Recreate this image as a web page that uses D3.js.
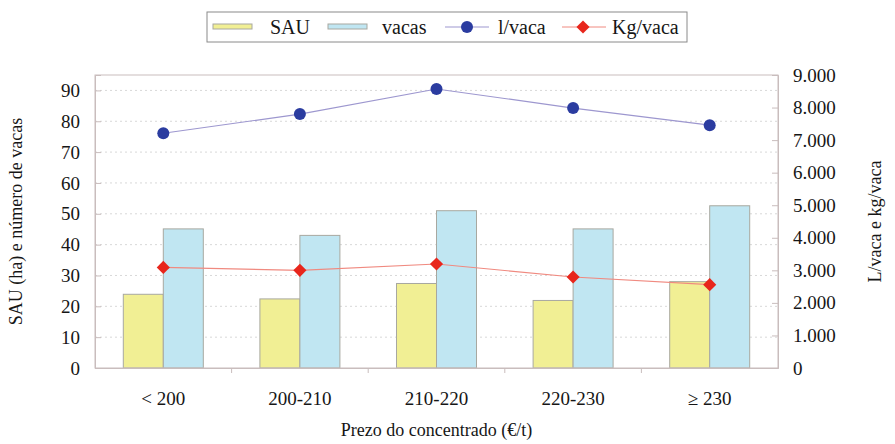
<!DOCTYPE html>
<html>
<head>
<meta charset="utf-8">
<script src="https://cdn.jsdelivr.net/npm/d3@7"></script>
<style>
  body { margin: 0; background: #fff; }
  svg text { font-family: "Liberation Serif", serif !important; fill: #161616; }
</style>
</head>
<body>
<svg id="grafica"></svg>
<script>
// Prezo do concentrado vs SAU, vacas e produción
const categorias = ["< 200", "200-210", "210-220", "220-230", "\u2265 230"];
const sau = [23.9, 22.4, 27.4, 21.9, 28.0];          // ha
const vacas = [45.1, 43.0, 51.0, 45.1, 52.6];         // número de vacas
const litros_vaca = [7210, 7800, 8570, 7985, 7460];   // l/vaca
const kg_vaca = [3090, 3000, 3195, 2795, 2560];       // Kg/vaca
const ticks_esq = [0, 10, 20, 30, 40, 50, 60, 70, 80, 90];
const ticks_der = [0, 1000, 2000, 3000, 4000, 5000, 6000, 7000, 8000, 9000];

const svg_w = 895;
const svg_h = 444;
const margin = {l:95, r:117, t:75, b:76};
const viz_w = svg_w - margin.l - margin.r;
const viz_h = svg_h - margin.t - margin.b;

const fonte = "Liberation Serif";
const cor_sau = "#f1ef94";
const cor_vacas = "#c0e6f2";
const cor_borde = "#c9bdbd";

let svg = d3.select("#grafica")
  .attr("width", svg_w)
  .attr("height", svg_h);

let x_scale = d3.scaleBand()
  .domain(categorias)
  .range([0, viz_w]);

let bw = x_scale.bandwidth();
let x_serie = d3.scaleBand()
  .domain(["sau", "vacas"])
  .range([bw/2 - 40, bw/2 + 40]);

let y_esq = d3.scaleLinear().domain([0, 95]).range([viz_h, 0]);
let y_der = d3.scaleLinear().domain([0, 9000]).range([viz_h, 0]);

let g = svg.append("g")
  .attr("transform", `translate(${margin.l},${margin.t})`);

// grella punteada
g.append("g")
  .selectAll("line")
  .data(ticks_esq.filter(d => d > 0))
  .enter().append("line")
  .attr("x1", 0).attr("x2", viz_w)
  .attr("y1", d => y_esq(d)).attr("y2", d => y_esq(d))
  .attr("stroke", "#d8d8d8")
  .attr("stroke-dasharray", "2,3");

// barras
let grupos = g.append("g")
  .selectAll("g")
  .data(categorias.map((c, i) => ({c: c, sau: sau[i], vacas: vacas[i]})))
  .enter().append("g")
  .attr("transform", d => `translate(${x_scale(d.c)},0)`);

grupos.append("rect")
  .attr("x", x_serie("sau"))
  .attr("width", x_serie.bandwidth())
  .attr("y", d => y_esq(d.sau))
  .attr("height", d => viz_h - y_esq(d.sau))
  .attr("fill", cor_sau)
  .attr("stroke", "#a8a8a0");

grupos.append("rect")
  .attr("x", x_serie("vacas"))
  .attr("width", x_serie.bandwidth())
  .attr("y", d => y_esq(d.vacas))
  .attr("height", d => viz_h - y_esq(d.vacas))
  .attr("fill", cor_vacas)
  .attr("stroke", "#a8a8a0");

// marco da gráfica
g.append("rect")
  .attr("width", viz_w).attr("height", viz_h)
  .attr("fill", "none")
  .attr("stroke", cor_borde);

// eixos
let eixo_esq = g.append("g")
  .call(d3.axisLeft(y_esq).tickValues(ticks_esq).tickSize(-6).tickPadding(15));
let eixo_der = g.append("g")
  .attr("transform", `translate(${viz_w},0)`)
  .call(d3.axisRight(y_der).tickValues(ticks_der).tickSize(-6).tickPadding(15)
    .tickFormat(d => d === 0 ? "0" : d3.format(",")(d).replace(/,/g, ".")));
let eixo_x = g.append("g")
  .attr("transform", `translate(0,${viz_h})`)
  .call(d3.axisBottom(x_scale).tickSize(0).tickPadding(24));

[eixo_esq, eixo_der, eixo_x].forEach(e => {
  e.attr("font-family", fonte);
  e.select(".domain").attr("stroke", cor_borde);
  e.selectAll(".tick line").attr("stroke", cor_borde);
  e.selectAll("text")
    .attr("font-size", 19)
    .style("font-family", fonte)
    .attr("fill", "#161616");
});

// marcas pequenas entre categorías
g.append("g")
  .selectAll("line")
  .data(categorias.slice(1))
  .enter().append("line")
  .attr("x1", d => x_scale(d)).attr("x2", d => x_scale(d))
  .attr("y1", viz_h).attr("y2", viz_h + 5)
  .attr("stroke", cor_borde);

// liñas
let cx = d => x_scale(d) + bw/2;
let linha_l = d3.line().x(d => cx(d.c)).y(d => y_der(d.v));
let dados_l = categorias.map((c, i) => ({c: c, v: litros_vaca[i]}));
let dados_kg = categorias.map((c, i) => ({c: c, v: kg_vaca[i]}));

g.append("path")
  .datum(dados_l)
  .attr("d", linha_l)
  .attr("fill", "none")
  .attr("stroke", "#9d97cf")
  .attr("stroke-width", 1.2);

g.append("g")
  .selectAll("circle")
  .data(dados_l)
  .enter().append("circle")
  .attr("cx", d => cx(d.c))
  .attr("cy", d => y_der(d.v))
  .attr("r", 6)
  .attr("fill", "#2b3ca0");

g.append("path")
  .datum(dados_kg)
  .attr("d", linha_l)
  .attr("fill", "none")
  .attr("stroke", "#f08a80")
  .attr("stroke-width", 1.2);

g.append("g")
  .selectAll("path.diamante")
  .data(dados_kg)
  .enter().append("path")
  .attr("class", "diamante")
  .attr("d", d3.symbol().type(d3.symbolDiamond2).size(110))
  .attr("transform", d => `translate(${cx(d.c)},${y_der(d.v)})`)
  .attr("fill", "#e8261c");

// títulos dos eixos
svg.append("text")
  .attr("transform", `translate(22,${margin.t + viz_h/2}) rotate(-90)`)
  .attr("text-anchor", "middle")
  .attr("font-size", 18)
  .style("font-family", fonte)
  .text("SAU (ha) e número de vacas");

svg.append("text")
  .attr("transform", `translate(881,${margin.t + viz_h/2}) rotate(-90)`)
  .attr("text-anchor", "middle")
  .attr("font-size", 18)
  .style("font-family", fonte)
  .text("L/vaca e kg/vaca");

svg.append("text")
  .attr("x", margin.l + viz_w/2)
  .attr("y", 436)
  .attr("text-anchor", "middle")
  .attr("font-size", 18)
  .style("font-family", fonte)
  .text("Prezo do concentrado (\u20AC/t)");

// lenda
let lenda = svg.append("g");
lenda.append("rect")
  .attr("x", 207).attr("y", 12)
  .attr("width", 480).attr("height", 30)
  .attr("fill", "#fff")
  .attr("stroke", "#8a8a8a");

const lenda_items = [
  {nome: "SAU", tipo: "barra", cor: cor_sau, x: 213, tx: 270},
  {nome: "vacas", tipo: "barra", cor: cor_vacas, x: 328, tx: 382},
  {nome: "l/vaca", tipo: "circulo", cor: "#2b3ca0", liña: "#9d97cf", x: 445, tx: 498},
  {nome: "Kg/vaca", tipo: "diamante", cor: "#e8261c", liña: "#f08a80", x: 562, tx: 612}
];

lenda_items.forEach(it => {
  if (it.tipo === "barra") {
    lenda.append("rect")
      .attr("x", it.x).attr("y", 24)
      .attr("width", 39).attr("height", 5)
      .attr("fill", it.cor)
      .attr("stroke", "#a8a8a0");
  } else {
    lenda.append("line")
      .attr("x1", it.x).attr("x2", it.x + 44)
      .attr("y1", 27).attr("y2", 27)
      .attr("stroke", it.liña);
    if (it.tipo === "circulo") {
      lenda.append("circle")
        .attr("cx", it.x + 22).attr("cy", 27).attr("r", 6)
        .attr("fill", it.cor);
    } else {
      lenda.append("path")
        .attr("d", d3.symbol().type(d3.symbolDiamond2).size(110))
        .attr("transform", `translate(${it.x + 21},27)`)
        .attr("fill", it.cor);
    }
  }
  lenda.append("text")
    .attr("x", it.tx).attr("y", 34)
    .attr("font-size", 20)
    .style("font-family", fonte)
    .text(it.nome);
});
</script>
</body>
</html>
